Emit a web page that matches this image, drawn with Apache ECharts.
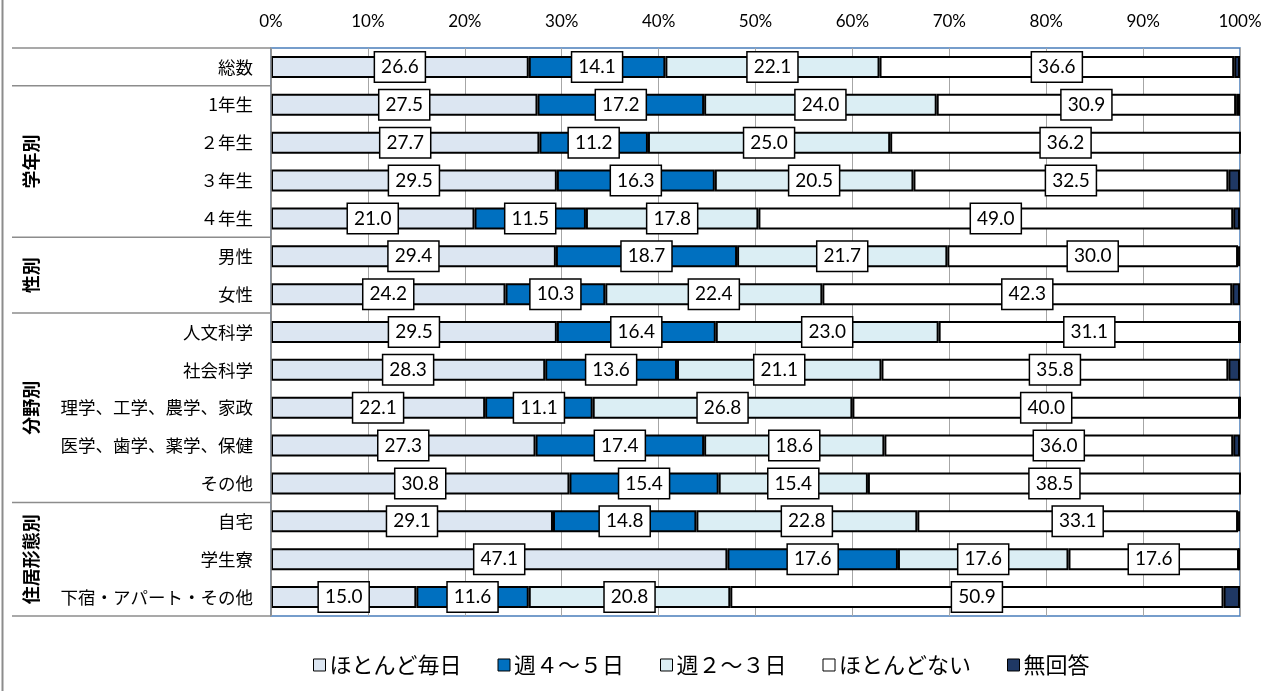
<!DOCTYPE html>
<html>
<head>
<meta charset="utf-8">
<script src="https://cdn.jsdelivr.net/npm/echarts@6/dist/echarts.min.js"></script>
<style>
  html, body { margin: 0; padding: 0; background: #fff; }
  #chart { width: 1279px; height: 691px; }
</style>
</head>
<body>
<div id="chart"></div>
<script>
// Row labels, top to bottom
const categories = ['総数', '1年生', '２年生', '３年生', '４年生', '男性', '女性',
  '人文科学', '社会科学', '理学、工学、農学、家政', '医学、歯学、薬学、保健', 'その他',
  '自宅', '学生寮', '下宿・アパート・その他'];

// Row groups (index ranges into categories)
const groupNames = ['学年別', '性別', '分野別', '住居形態別'];
const groupStart = [1, 5, 7, 12];
const groupEnd = [4, 6, 11, 14];

const seriesNames = ['ほとんど毎日', '週４～５日', '週２～３日', 'ほとんどない', '無回答'];

// Percentages per row
const almostDaily = [26.6, 27.5, 27.7, 29.5, 21.0, 29.4, 24.2, 29.5, 28.3, 22.1, 27.3, 30.8, 29.1, 47.1, 15.0];
const week4to5   = [14.1, 17.2, 11.2, 16.3, 11.5, 18.7, 10.3, 16.4, 13.6, 11.1, 17.4, 15.4, 14.8, 17.6, 11.6];
const week2to3   = [22.1, 24.0, 25.0, 20.5, 17.8, 21.7, 22.4, 23.0, 21.1, 26.8, 18.6, 15.4, 22.8, 17.6, 20.8];
const almostNever = [36.6, 30.9, 36.2, 32.5, 49.0, 30.0, 42.3, 31.1, 35.8, 40.0, 36.0, 38.5, 33.1, 17.6, 50.9];
const noAnswer   = [0.6, 0.4, 0.0, 1.2, 0.7, 0.2, 0.8, 0.0, 1.2, 0.0, 0.7, 0.0, 0.2, 0.0, 1.7];

const xTicks = [0, 10, 20, 30, 40, 50, 60, 70, 80, 90, 100];

const colors = ['#dce6f2', '#0070c0', '#dbeef4', '#ffffff', '#1f3864'];
const seriesData = [almostDaily, week4to5, week2to3, almostNever, noAnswer];

const jp = '"Noto Sans CJK JP", sans-serif';
const num = 'Lato, "Liberation Sans", sans-serif';

const chart = echarts.init(document.getElementById('chart'), null, { renderer: 'canvas' });

const series = seriesNames.map((name, i) => ({
  name: name,
  type: 'bar',
  stack: 'total',
  barWidth: 22,
  data: seriesData[i],
  itemStyle: { color: colors[i], borderColor: '#000', borderWidth: 2 },
  label: {
    show: i < 4,
    position: 'inside',
    formatter: p => p.value.toFixed(1),
    color: '#000',
    fontFamily: num,
    fontSize: 19,
    backgroundColor: '#fff',
    borderColor: '#000',
    borderWidth: 1.5,
    padding: [6, 6, 4, 6]
  },
  emphasis: { disabled: true }
}));

chart.setOption({
  animation: false,
  backgroundColor: '#fff',
  grid: {
    left: 271, right: 39, top: 48, bottom: 75,
    show: true, borderColor: '#4a7ebb', borderWidth: 1.5, backgroundColor: 'transparent'
  },
  legend: {
    bottom: 10,
    left: 308,
    itemWidth: 12,
    itemHeight: 12,
    itemGap: 36,
    icon: 'rect',
    itemStyle: { borderColor: '#000', borderWidth: 1 },
    textStyle: { fontFamily: jp, fontSize: 22, color: '#000', padding: [0, 0, 0, -1] },
    data: seriesNames
  },
  xAxis: {
    type: 'value',
    position: 'top',
    min: xTicks[0],
    max: xTicks[xTicks.length - 1],
    interval: 10,
    axisLine: { show: false },
    axisTick: { show: false },
    axisLabel: { formatter: '{value}%', fontFamily: num, fontSize: 17, color: '#000', margin: 18 },
    splitLine: { show: true, lineStyle: { color: '#a6a6a6', width: 1 } }
  },
  yAxis: {
    type: 'category',
    inverse: true,
    data: categories,
    axisLine: { show: false },
    axisTick: { show: false },
    axisLabel: { fontFamily: jp, fontSize: 17.5, color: '#000', margin: 18 }
  },
  series: series
});

// Table lines and group titles at the left, placed from the category axis
function drawTable() {
  const yc = categories.map((c, i) => chart.convertToPixel({ yAxisIndex: 0 }, i));
  const step = yc[1] - yc[0];
  const top = yc[0] - step / 2;
  const bottom = yc[yc.length - 1] + step / 2;
  const plotLeft = chart.convertToPixel({ xAxisIndex: 0 }, 0);
  const lineStyle = { stroke: '#8c8c8c', lineWidth: 1.5 };
  const els = [];
  // outer frame edge
  els.push({ type: 'line', shape: { x1: 2.5, y1: 0, x2: 2.5, y2: 691 }, style: { stroke: '#8c8c8c', lineWidth: 2 }, silent: true });
  // vertical line between labels and plot
  els.push({ type: 'line', shape: { x1: plotLeft, y1: top, x2: plotLeft, y2: bottom }, style: lineStyle, silent: true, z: 10 });
  const hLines = [top, bottom];
  groupStart.forEach(s => hLines.push(yc[s] - step / 2));
  hLines.forEach(y => els.push({ type: 'line', shape: { x1: 12, y1: y, x2: plotLeft, y2: y }, style: lineStyle, silent: true }));
  groupNames.forEach((g, k) => {
    const cy = (yc[groupStart[k]] + yc[groupEnd[k]]) / 2;
    els.push({
      type: 'text', x: 31, y: cy, rotation: Math.PI / 2, silent: true,
      style: { text: g, fontFamily: jp, fontSize: 18, fontWeight: 'bold', fill: '#000', align: 'center', verticalAlign: 'middle' }
    });
  });
  chart.setOption({ graphic: els });
}
drawTable();
</script>
</body>
</html>
